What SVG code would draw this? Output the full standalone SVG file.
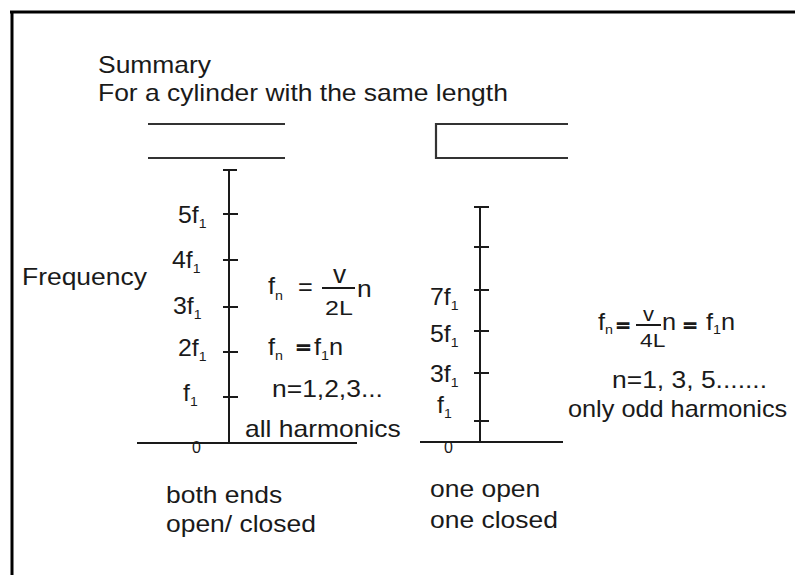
<svg xmlns="http://www.w3.org/2000/svg" width="795" height="575" viewBox="0 0 795 575">
<style>
.t{font-family:"Liberation Sans",Arial,Helvetica,sans-serif;font-size:23px;fill:#1a1a1a}
.sub{font-size:13px}
.z{font-family:"Liberation Sans",Arial,sans-serif;font-size:16px;fill:#1a1a1a}
.eq{font-family:"Liberation Sans",Arial,sans-serif;font-size:13px;font-weight:bold;fill:#1a1a1a;stroke:#1a1a1a;stroke-width:1.4}
.ln{stroke:#1a1a1a;stroke-width:2;fill:none}
.cyl{stroke:#333;stroke-width:2.2;fill:none}
</style>
<rect width="795" height="575" fill="#fff"/>
<g id="frame">
<line x1="10" y1="12" x2="795" y2="12" stroke="#000" stroke-width="3"/>
<line x1="12" y1="11" x2="12" y2="575" stroke="#000" stroke-width="3"/>
</g>
<g id="title">
<text class="t" transform="translate(98,73) scale(1.15,1)">Summary</text>
<text class="t" transform="translate(98,101) scale(1.15,1)">For a cylinder with the same length</text>
</g>
<g id="cylinder-open">
<line class="cyl" x1="148" y1="124" x2="285" y2="124"/>
<line class="cyl" x1="148" y1="158" x2="285" y2="158"/>
</g>
<g id="cylinder-closed">
<polyline class="cyl" points="568,124 436,124 436,158 568,158"/>
</g>
<g id="freq-label">
<text class="t" transform="translate(22,285) scale(1.15,1)">Frequency</text>
</g>
<g id="axis-open">
<line class="ln" x1="229" y1="169" x2="229" y2="443"/>
<line class="ln" x1="223" y1="170" x2="237" y2="170"/>
<line class="ln" x1="223" y1="214" x2="238" y2="214"/>
<line class="ln" x1="223" y1="260" x2="238" y2="260"/>
<line class="ln" x1="223" y1="307" x2="238" y2="307"/>
<line class="ln" x1="223" y1="352" x2="238" y2="352"/>
<line class="ln" x1="223" y1="397" x2="238" y2="397"/>
<line class="ln" x1="137" y1="443" x2="357" y2="443"/>
<text class="z" x="192" y="453">0</text>
<text class="t" transform="translate(178,223) scale(1.08,1)">5f<tspan class="sub" dy="5">1</tspan></text>
<text class="t" transform="translate(172,268) scale(1.08,1)">4f<tspan class="sub" dy="5">1</tspan></text>
<text class="t" transform="translate(173,314) scale(1.08,1)">3f<tspan class="sub" dy="5">1</tspan></text>
<text class="t" transform="translate(178,356) scale(1.08,1)">2f<tspan class="sub" dy="5">1</tspan></text>
<text class="t" transform="translate(183,401) scale(1.08,1)">f<tspan class="sub" dy="5">1</tspan></text>
</g>
<g id="formula-open">
<text class="t" transform="translate(268,294) scale(1.1,1)">f<tspan class="sub" dy="6">n</tspan></text>
<text class="t" transform="translate(298,295) scale(1.1,1)">=</text>
<line class="ln" x1="322" y1="288" x2="355" y2="288"/>
<text class="t" transform="translate(333,283) scale(1.05,1)" style="font-size:25px">v</text>
<text class="t" transform="translate(325,315) scale(1.25,1)" style="font-size:20px">2L</text>
<text class="t" transform="translate(357,297) scale(1.1,1)" style="font-size:24px">n</text>
<text class="t" transform="translate(268,355) scale(1.1,1)">f<tspan class="sub" dy="5">n</tspan></text>
<text class="eq" transform="translate(297,352) scale(1.7,1)">=</text>
<text class="t" transform="translate(314,355) scale(1.1,1)">f<tspan class="sub" dy="5">1</tspan><tspan dy="-5">n</tspan></text>
<text class="t" transform="translate(272,397) scale(1.15,1)">n=1,2,3...</text>
<text class="t" transform="translate(245,437) scale(1.15,1)">all harmonics</text>
</g>
<g id="caption-open">
<text class="t" transform="translate(166,503) scale(1.15,1)">both ends</text>
<text class="t" transform="translate(166,532) scale(1.15,1)">open/ closed</text>
</g>
<g id="axis-closed">
<line class="ln" x1="480" y1="206" x2="480" y2="442"/>
<line class="ln" x1="474" y1="207" x2="489" y2="207"/>
<line class="ln" x1="474" y1="247" x2="489" y2="247"/>
<line class="ln" x1="474" y1="290" x2="489" y2="290"/>
<line class="ln" x1="474" y1="331" x2="489" y2="331"/>
<line class="ln" x1="474" y1="373" x2="489" y2="373"/>
<line class="ln" x1="474" y1="421" x2="489" y2="421"/>
<line class="ln" x1="420" y1="442" x2="563" y2="442"/>
<text class="z" x="444" y="453">0</text>
<text class="t" transform="translate(430,305) scale(1.08,1)">7f<tspan class="sub" dy="5">1</tspan></text>
<text class="t" transform="translate(430,342) scale(1.08,1)">5f<tspan class="sub" dy="5">1</tspan></text>
<text class="t" transform="translate(430,382) scale(1.08,1)">3f<tspan class="sub" dy="5">1</tspan></text>
<text class="t" transform="translate(437,413) scale(1.08,1)">f<tspan class="sub" dy="5">1</tspan></text>
</g>
<g id="formula-closed">
<text class="t" transform="translate(598,330) scale(1.1,1)">f<tspan class="sub" dy="4">n</tspan></text>
<text class="eq" transform="translate(617,329.5) scale(1.6,1)">=</text>
<line class="ln" x1="636" y1="325" x2="661" y2="325"/>
<text class="t" transform="translate(643,321) scale(1.1,1)" style="font-size:20px">v</text>
<text class="t" transform="translate(640,347) scale(1.2,1)" style="font-size:19px">4L</text>
<text class="t" transform="translate(662,330) scale(1.1,1)">n</text>
<text class="eq" transform="translate(684,329.5) scale(1.6,1)">=</text>
<text class="t" transform="translate(706,330) scale(1.1,1)">f<tspan class="sub" dy="4">1</tspan><tspan dy="-4">n</tspan></text>
<text class="t" transform="translate(612,388) scale(1.15,1)">n=1, 3, 5.......</text>
<text class="t" transform="translate(568,417) scale(1.1,1)">only odd harmonics</text>
</g>
<g id="caption-closed">
<text class="t" transform="translate(430,497) scale(1.15,1)">one open</text>
<text class="t" transform="translate(430,528) scale(1.15,1)">one closed</text>
</g>
</svg>
